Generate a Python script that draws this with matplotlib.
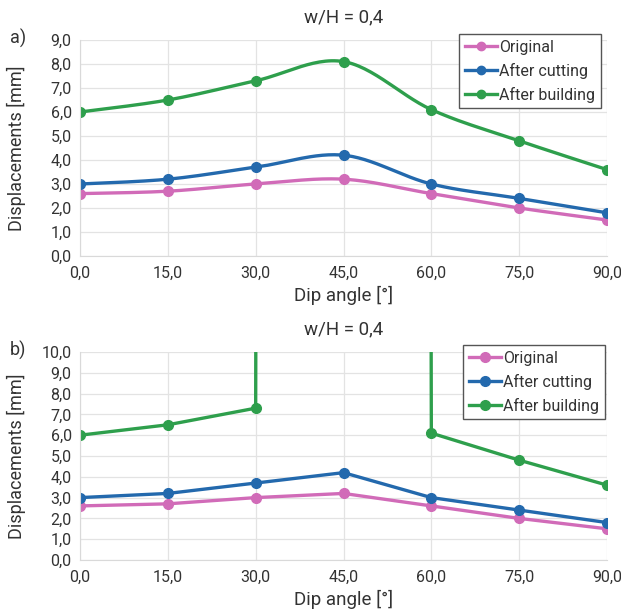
import numpy as np
import matplotlib
matplotlib.use("Agg")
from matplotlib import pyplot as plt
from matplotlib.ticker import FuncFormatter

plt.rcParams['font.family'] = ['Roboto', 'DejaVu Sans']

# dados
dip = [0, 15, 30, 45, 60, 75, 90]
original = [2.6, 2.7, 3.0, 3.2, 2.6, 2.0, 1.5]
afterCutting = [3.0, 3.2, 3.7, 4.2, 3.0, 2.4, 1.8]
afterBuilding = [6.0, 6.5, 7.3, 8.1, 6.1, 4.8, 3.6]
# no painel b) o valor a 45 graus sai muito fora da escala
afterBuildingB = [6.0, 6.5, 7.3, 2000.0, 6.1, 4.8, 3.6]

names = ["Original", "After cutting", "After building"]
colors = ["#D16BB8", "#2369AD", "#2E9F4C"]
title = "w/H = 0,4"
txtColor = "#333333"


def smoothLine(x, y, n=30):
    # curva suavizada tipo Excel (Catmull-Rom)
    x = np.asarray(x, float)
    y = np.asarray(y, float)
    px = np.concatenate([[x[0]], x, [x[-1]]])
    py = np.concatenate([[y[0]], y, [y[-1]]])
    outX, outY = [], []
    for i in range(1, len(px) - 2):
        t = np.linspace(0, 1, n)
        for p, out in ((px, outX), (py, outY)):
            p0, p1, p2, p3 = p[i - 1], p[i], p[i + 1], p[i + 2]
            c = 0.5 * ((2 * p1) + (-p0 + p2) * t + (2 * p0 - 5 * p1 + 4 * p2 - p3) * t ** 2
                       + (-p0 + 3 * p1 - 3 * p2 + p3) * t ** 3)
            out.extend(c)
    return np.array(outX), np.array(outY)


def comma(v, pos):
    return f"{v:.1f}".replace(".", ",")


def styleAxis(ax, ymax, legAnchor):
    ax.set_xlim(0, 90)
    ax.set_ylim(0, ymax)
    ax.set_xticks(dip)
    ax.set_yticks(np.arange(0, ymax + 0.5, 1.0))
    ax.xaxis.set_major_formatter(FuncFormatter(comma))
    ax.yaxis.set_major_formatter(FuncFormatter(comma))
    ax.grid(True, color="#E3E3E3", linewidth=0.9)
    ax.set_axisbelow(True)
    for s in ("top", "right"):
        ax.spines[s].set_visible(False)
    for s in ("left", "bottom"):
        ax.spines[s].set_color("#D9D9D9")
    ax.tick_params(axis="x", length=0, labelsize=11.5, colors=txtColor, pad=7)
    ax.tick_params(axis="y", length=0, labelsize=11.5, colors=txtColor, pad=6)
    ax.set_xlabel("Dip angle [°]", fontsize=13.5, color=txtColor, labelpad=4)
    ax.set_ylabel("Displacements [mm]", fontsize=13, color=txtColor)
    ax.yaxis.set_label_coords(-54 / 527, 0.5)
    ax.set_title(title, fontsize=13.5, color=txtColor, pad=13)
    leg = ax.legend(loc="upper right", bbox_to_anchor=legAnchor, borderaxespad=0,
                    fontsize=11.5, handlelength=2.0, handletextpad=0.15, borderpad=0.35,
                    labelspacing=0.5, fancybox=False, framealpha=1)
    leg.get_frame().set_edgecolor("#555555")
    leg.get_frame().set_linewidth(1.0)
    for t in leg.get_texts():
        t.set_color(txtColor)


fig = plt.figure(figsize=(6.21, 6.16), dpi=100)
axA = fig.add_axes([80 / 621, 1 - 256 / 616, 527 / 621, 216 / 616])
axB = fig.add_axes([80 / 621, 1 - 560 / 616, 527 / 621, 208 / 616])

seriesA = [original, afterCutting, afterBuilding]
for vals, name, col in zip(seriesA, names, colors):
    sx, sy = smoothLine(dip, vals)
    axA.plot(sx, sy, color=col, linewidth=2.4)
    axA.plot(dip, vals, "o", color=col, markersize=7)
    axA.plot([], [], "-o", color=col, linewidth=2.4, markersize=6, label=name)
styleAxis(axA, 9, (1 - 6 / 527, 1 + 6 / 216))

seriesB = [original, afterCutting, afterBuildingB]
for vals, name, col in zip(seriesB, names, colors):
    axB.plot(dip, vals, "-o", color=col, linewidth=2.4, markersize=7, label=name)
styleAxis(axB, 10, (1 - 2 / 527, 1 + 7 / 208))

fig.text(10 / 621, 1 - 38 / 616, "a)", fontsize=13, color=txtColor, va="center")
fig.text(10 / 621, 1 - 350 / 616, "b)", fontsize=13, color=txtColor, va="center")

fig.savefig("out.png", dpi=100)
